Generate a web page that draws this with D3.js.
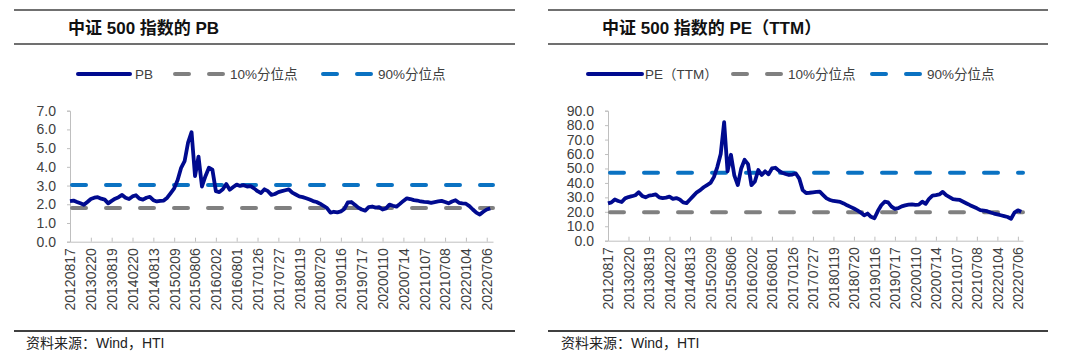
<!DOCTYPE html>
<html>
<head>
<meta charset="utf-8">
<script src="https://cdn.jsdelivr.net/npm/d3@7"></script>
<style>
body { margin: 0; background: #fff; }
svg { display: block; font-family: "Liberation Sans", Arial, "Noto Sans CJK SC", sans-serif; }
</style>
</head>
<body>
<svg id="chart" width="1080" height="358"></svg>
<script>
// x轴标签（每隔一段交易日标一次）
var xLabels = ["20120817","20130220","20130819","20140220","20140813","20150209","20150806",
  "20160202","20160801","20170126","20170727","20180119","20180720","20190116","20190717",
  "20200110","20200714","20210107","20210708","20220104","20220706"];

// 每个标签区间取6个点
var pointsPerLabel = 6;

// 中证500 PB
var pbValues = [2.17,2.2,2.12,2.05,1.97,2.12,2.28,2.35,2.38,2.3,2.25,2.05,2.18,2.3,2.38,2.5,2.35,2.28,
  2.42,2.48,2.3,2.25,2.35,2.4,2.22,2.15,2.18,2.2,2.35,2.6,2.85,3.3,3.95,4.3,5.3,5.85,3.5,4.55,2.95,
  3.5,3.95,3.85,2.7,2.65,2.8,3.08,2.78,2.92,3.05,2.98,3.02,2.95,2.97,2.85,2.7,2.6,2.8,2.7,2.5,2.55,
  2.65,2.7,2.75,2.8,2.62,2.52,2.42,2.38,2.32,2.25,2.17,2.12,2.03,1.92,1.8,1.55,1.6,1.57,1.62,1.75,
  2.1,2.12,1.98,1.82,1.72,1.66,1.85,1.88,1.82,1.85,1.72,1.78,1.98,1.92,1.87,2.02,2.18,2.32,2.28,
  2.22,2.2,2.15,2.13,2.12,2.08,2.12,2.15,2.18,2.12,2.05,2.15,2.22,2.08,2.05,2.03,1.9,1.72,1.55,
  1.45,1.6,1.72,1.78];

// 中证500 PE(TTM)
var peValues = [25.8,26.5,28.5,27.5,26.8,29.3,30.2,30.8,31.5,33.5,31,30,31.2,31.5,32,30,29.5,29.8,
  30.5,29,29.5,28.5,26.5,26,28.5,31,33.5,35,37,38.5,40,44,51,60,82,48,59.5,45,38.5,50,56,53,38.5,
  41,48.9,45.5,48,46,50,50.5,48.5,47,46.2,45.5,45.8,46.5,43,35,33,33.2,33.5,33.8,33.9,31.6,29.3,
  28.2,27.5,27.2,26.8,25.8,24.5,23.4,22.3,21,19.5,17.5,18.8,16.5,15.5,20.5,24.5,27,26.5,23.6,22,
  22.5,23.8,24.5,25,25.2,24.8,25,27,25.5,29,31.2,31.5,32,33.8,31.5,30.2,28.8,28.5,28.2,27,25.8,
  24.6,23.5,22.4,21.2,20.8,20.4,19.5,18.8,18.2,17.6,17,16.4,15.2,19.4,21,20];

// 分位点
var pbPct10 = 1.8, pbPct90 = 3.03;
var pePct10 = 19.7, pePct90 = 47.1;

// y轴刻度
var pbTicks = [0, 1, 2, 3, 4, 5, 6, 7];
var peTicks = [0, 10, 20, 30, 40, 50, 60, 70, 80, 90];

var navy = "#000a8f", gray = "#808080", blue = "#0a72c2";
var svg = d3.select("#chart");

var panels = [
  {
    ruleL: 14, ruleR: 515, title: "中证 500 指数的 PB", titleX: 68, footX: 26,
    plotL: 70, plotR: 493, xEnd: 20.3, yTop: 110.7, yBottom: 241.7,
    values: pbValues, ticks: pbTicks, p10: pbPct10, p90: pbPct90,
    legend: [
      {x0: 78, x1: 130, tx: 135, name: "PB", color: navy, dash: null},
      {x0: 175, x1: 227, tx: 230, name: "10%分位点", color: gray, dash: true},
      {x0: 323, x1: 375, tx: 378, name: "90%分位点", color: blue, dash: true}
    ]
  },
  {
    ruleL: 548, ruleR: 1048, title: "中证 500 指数的 PE（TTM）", titleX: 602, footX: 561,
    plotL: 608, plotR: 1023, xEnd: 20.25, yTop: 110.7, yBottom: 240.7,
    values: peValues, ticks: peTicks, p10: pePct10, p90: pePct90,
    legend: [
      {x0: 588, x1: 642, tx: 645, name: "PE（TTM）", color: navy, dash: null},
      {x0: 733, x1: 785, tx: 788, name: "10%分位点", color: gray, dash: true},
      {x0: 872, x1: 923, tx: 927, name: "90%分位点", color: blue, dash: true}
    ]
  }
];

panels.forEach(drawPanel);

function drawPanel(p) {
  var g = svg.append("g");

  // 标题上下两条线
  [10, 44].forEach(function(y) {
    g.append("line").attr("x1", p.ruleL).attr("x2", p.ruleR).attr("y1", y).attr("y2", y)
      .attr("stroke", "#404040").attr("stroke-width", 1.5);
  });
  g.append("text").attr("x", p.titleX).attr("y", 34)
    .attr("font-size", 17).attr("font-weight", "bold").attr("fill", "#111")
    .text(p.title);

  // 图例
  p.legend.forEach(function(d) {
    var ln = g.append("line").attr("x1", d.x0).attr("x2", d.x1).attr("y1", 74).attr("y2", 74)
      .attr("stroke", d.color).attr("stroke-width", 4).attr("stroke-linecap", "round");
    if (d.dash) ln.attr("stroke-dasharray", "14 20");
    g.append("text").attr("x", d.tx).attr("y", 78.5).attr("font-size", 13.5).attr("fill", "#404040")
      .text(d.name);
  });

  var x = d3.scaleLinear().domain([0, p.xEnd]).range([p.plotL, p.plotR]);
  var y = d3.scaleLinear().domain([0, d3.max(p.ticks)]).range([p.yBottom, p.yTop]);

  // y轴
  var yAxis = g.append("g").attr("transform", "translate(" + p.plotL + ",0)")
    .call(d3.axisLeft(y).tickValues(p.ticks).tickFormat(d3.format(".1f")).tickSize(3).tickPadding(11));
  yAxis.select(".domain").attr("stroke", "#bfbfbf");
  yAxis.selectAll(".tick line").attr("stroke", "#bfbfbf");
  yAxis.selectAll("text").attr("font-size", 14).attr("fill", "#404040")
    .attr("font-family", "Liberation Sans, Arial, sans-serif");

  // x轴
  var xAxis = g.append("g").attr("transform", "translate(0," + p.yBottom + ")")
    .call(d3.axisBottom(x).tickValues(d3.range(xLabels.length))
      .tickFormat(function(i) { return xLabels[i]; }).tickSizeInner(-4).tickSizeOuter(0));
  xAxis.select(".domain").attr("stroke", "#bfbfbf");
  xAxis.selectAll(".tick line").attr("stroke", "#bfbfbf");
  xAxis.selectAll("text")
    .attr("font-size", 14).attr("fill", "#404040")
    .attr("font-family", "Liberation Sans, Arial, sans-serif")
    .attr("text-anchor", "end").attr("y", 0).attr("dy", "0.35em")
    .attr("transform", "translate(0,6.5) rotate(-90)");

  // 分位点虚线
  [[p.p10, gray], [p.p90, blue]].forEach(function(d) {
    g.append("line").attr("x1", x(0) + 2).attr("x2", x(p.xEnd)).attr("y1", y(d[0])).attr("y2", y(d[0]))
      .attr("stroke", d[1]).attr("stroke-width", 4).attr("stroke-linecap", "round")
      .attr("stroke-dasharray", "14 20");
  });

  // 主线
  var line = d3.line()
    .x(function(d, i) { return x(i / pointsPerLabel); })
    .y(function(d) { return y(d); });
  g.append("path").datum(p.values).attr("d", line)
    .attr("fill", "none").attr("stroke", navy).attr("stroke-width", 3.8)
    .attr("stroke-linejoin", "round");

  // 资料来源
  g.append("line").attr("x1", p.ruleL).attr("x2", p.ruleR).attr("y1", 331).attr("y2", 331)
    .attr("stroke", "#404040").attr("stroke-width", 2);
  g.append("text").attr("x", p.footX).attr("y", 348).attr("font-size", 14).attr("fill", "#222")
    .text("资料来源：Wind，HTI");
}
</script>
</body>
</html>
